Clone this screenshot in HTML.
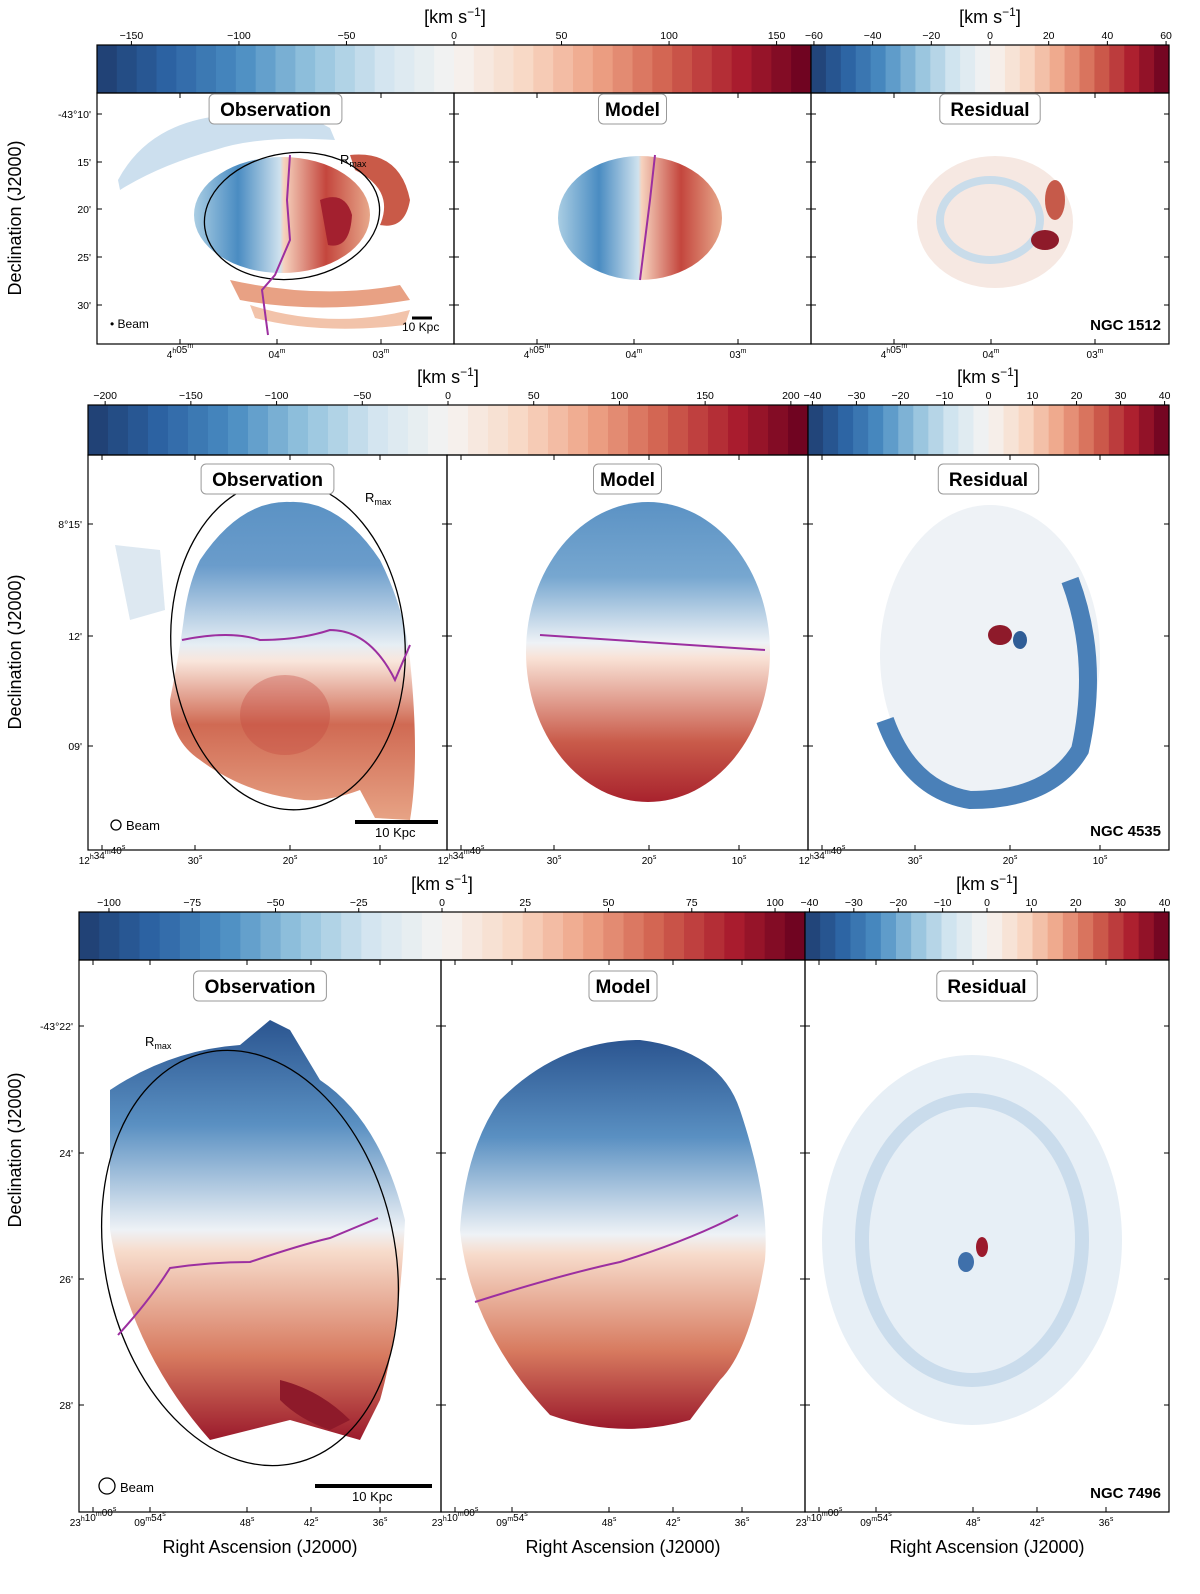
<!DOCTYPE html>
<html><head><meta charset="utf-8"><style>
html,body{margin:0;padding:0;background:#fff;overflow:hidden;width:1200px;height:1594px}
svg{display:block;position:absolute;left:0;top:0;font-family:"Liberation Sans","DejaVu Sans",sans-serif}
</style></head><body>
<svg id="fig" width="1200" height="1594" viewBox="0 0 1200 1594" xmlns="http://www.w3.org/2000/svg">
<defs>
<linearGradient id="gH" x1="0" y1="0" x2="1" y2="0"><stop offset="0" stop-color="#a9cde3"/><stop offset="0.25" stop-color="#4a8cc2"/><stop offset="0.49" stop-color="#cfe2ee"/><stop offset="0.51" stop-color="#f6d2be"/><stop offset="0.75" stop-color="#c4463d"/><stop offset="1" stop-color="#e7a88b"/></linearGradient>
<linearGradient id="gV" x1="0" y1="0" x2="0" y2="1"><stop offset="0" stop-color="#5b92c4"/><stop offset="0.2" stop-color="#6a9ccb"/><stop offset="0.45" stop-color="#e6eef4"/><stop offset="0.5" stop-color="#f9e6dc"/><stop offset="0.7" stop-color="#d06a53"/><stop offset="1" stop-color="#e7a385"/></linearGradient>
<linearGradient id="gV2" x1="0" y1="0" x2="0" y2="1"><stop offset="0" stop-color="#5b92c4"/><stop offset="0.25" stop-color="#77a7d0"/><stop offset="0.47" stop-color="#eef2f6"/><stop offset="0.52" stop-color="#f9e2d6"/><stop offset="0.8" stop-color="#c95b4a"/><stop offset="1" stop-color="#a8222d"/></linearGradient>
<linearGradient id="gV3" x1="0" y1="0" x2="0" y2="1"><stop offset="0" stop-color="#2b5590"/><stop offset="0.25" stop-color="#5a90c2"/><stop offset="0.5" stop-color="#eef2f6"/><stop offset="0.55" stop-color="#f7dccc"/><stop offset="0.8" stop-color="#d77a5f"/><stop offset="1" stop-color="#9b1a2c"/></linearGradient>
</defs>
<g id="bars"></g>
<g id="maps">
<g>
<path d="M118,180 Q150,120 230,115 Q300,110 330,128 L335,140 Q260,135 215,150 Q160,165 120,190 Z" fill="#c6dcec" opacity="0.9"/>
<ellipse cx="282" cy="215" rx="88" ry="58" fill="url(#gH)"/>
<path d="M350,155 Q400,150 410,200 Q405,230 380,225 Q395,190 355,170 Z" fill="#c95a48"/>
<path d="M230,280 Q320,300 400,285 L410,300 Q320,315 240,300 Z" fill="#e8a184"/>
<path d="M250,305 Q330,330 410,310 L405,325 Q320,335 255,318 Z" fill="#f2c3aa"/>
<path d="M320,200 Q345,190 352,215 Q350,250 328,245 Z" fill="#a3202f"/>
</g>
<g><ellipse cx="640" cy="218" rx="82" ry="62" fill="url(#gH)"/></g>
<g>
<ellipse cx="995" cy="222" rx="78" ry="66" fill="#f6e8e2"/>
<ellipse cx="990" cy="220" rx="50" ry="40" fill="none" stroke="#c9dcea" stroke-width="8"/>
<ellipse cx="1045" cy="240" rx="14" ry="10" fill="#8e1a2a"/>
<ellipse cx="1055" cy="200" rx="10" ry="20" fill="#c65a4a"/>
</g>
<g>
<path d="M115,545 L160,550 L165,610 L130,620 Z" fill="#dde8f1"/>
<path d="M200,560 Q240,500 290,502 Q340,500 380,560 Q405,610 410,660 Q420,760 410,820 L375,818 L360,790 Q320,805 290,798 Q240,790 200,760 Q170,740 170,700 Q180,650 185,610 Q190,580 200,560 Z" fill="url(#gV)"/>
<ellipse cx="285" cy="715" rx="45" ry="40" fill="#c4463d" opacity="0.35"/>
</g>
<g><ellipse cx="648" cy="652" rx="122" ry="150" fill="url(#gV2)"/></g>
<g>
<ellipse cx="990" cy="655" rx="110" ry="150" fill="#eef2f6"/>
<path d="M1070,580 Q1100,660 1080,750 Q1050,800 970,800 Q910,790 885,720" fill="none" stroke="#4a80b8" stroke-width="18"/>
<ellipse cx="1000" cy="635" rx="12" ry="10" fill="#8e1a2a"/>
<ellipse cx="1020" cy="640" rx="7" ry="9" fill="#2f5d96"/>
</g>
<g>
<path d="M110,1090 Q170,1050 240,1045 L270,1020 L290,1030 L320,1080 Q380,1120 405,1220 Q400,1330 380,1400 L360,1440 L290,1420 Q250,1430 210,1440 Q130,1350 110,1230 Z" fill="url(#gV3)"/>
<path d="M280,1380 Q320,1390 350,1420 L330,1430 Q300,1420 280,1400 Z" fill="#8e1a2a"/>
</g>
<g>
<path d="M500,1100 Q560,1040 640,1040 Q720,1050 740,1110 Q770,1200 765,1260 Q750,1350 720,1380 L690,1420 Q620,1440 550,1415 Q470,1330 460,1230 Q465,1150 500,1100 Z" fill="url(#gV3)"/>
</g>
<g>
<ellipse cx="972" cy="1240" rx="150" ry="185" fill="#e7eff6"/>
<ellipse cx="972" cy="1240" rx="110" ry="140" fill="none" stroke="#cadcec" stroke-width="14"/>
<ellipse cx="982" cy="1247" rx="6" ry="10" fill="#9b1a2c"/>
<ellipse cx="966" cy="1262" rx="8" ry="10" fill="#3f70ab"/>
</g>
</g>
<g id="over" fill="none">
<ellipse cx="292" cy="216" rx="88" ry="63" stroke="#000" stroke-width="1.3" transform="rotate(-8 292 216)"/>
<path d="M290,155 L287,200 L290,240 L275,275 L262,290 L268,335" stroke="#9c2fa0" stroke-width="2"/>
<path d="M655,155 L650,200 L645,240 L640,280" stroke="#9c2fa0" stroke-width="2"/>
<ellipse cx="288" cy="645" rx="117" ry="165" stroke="#000" stroke-width="1.3" transform="rotate(-4 288 645)"/>
<path d="M182,640 Q230,630 260,640 Q300,640 330,630 Q370,630 395,680 L410,645" stroke="#9c2fa0" stroke-width="2"/>
<path d="M540,635 Q650,642 765,650" stroke="#9c2fa0" stroke-width="2"/>
<ellipse cx="250" cy="1258" rx="145" ry="210" stroke="#000" stroke-width="1.3" transform="rotate(-12 250 1258)"/>
<path d="M118,1335 Q150,1300 170,1268 Q210,1262 250,1262 Q300,1245 330,1238 L378,1218" stroke="#9c2fa0" stroke-width="2"/>
<path d="M475,1302 Q560,1275 620,1262 Q690,1240 738,1215" stroke="#9c2fa0" stroke-width="2"/>
</g>
<g id="axes"></g>
</svg>
<script>
const cb1Ticks=[-150,-100,-50,0,50,100,150];
const cb1Res=[-60,-40,-20,0,20,40,60];
const cb2Ticks=[-200,-150,-100,-50,0,50,100,150,200];
const cb2Res=[-40,-30,-20,-10,0,10,20,30,40];
const cb3Ticks=[-100,-75,-50,-25,0,25,50,75,100];
const cb3Res=[-40,-30,-20,-10,0,10,20,30,40];
const NS='http://www.w3.org/2000/svg';
const stops=['#1f3d6f','#2c63a3','#4a8cc2','#93c2dd','#d3e5f0','#f6f4f2','#f8d8c5','#eea386','#d0604e','#ab1d2e','#67001f'];
function hex(c){return [1,3,5].map(i=>parseInt(c.substr(i,2),16));}
function cmap(t){t=Math.max(0,Math.min(1,t));const s=t*(stops.length-1);const i=Math.min(stops.length-2,Math.floor(s));const f=s-i;const a=hex(stops[i]),b=hex(stops[i+1]);return 'rgb('+a.map((v,k)=>Math.round(v+(b[k]-v)*f)).join(',')+')';}
function el(tag,attrs,parent){const e=document.createElementNS(NS,tag);for(const k in attrs)e.setAttribute(k,attrs[k]);parent.appendChild(e);return e;}
const bars=document.getElementById('bars');
function colorbar(name,x0,x1,y0,y1,vmin,vmax,nb,ticks,title,tx){
  const g=el('g',{},bars);
  
  
  const w=(x1-x0)/nb;
  for(let i=0;i<nb;i++){const r=el('rect',{x:x0+i*w,y:y0,width:w+0.6,height:y1-y0,fill:cmap((i+0.5)/nb)},g);
    
    }
  el('rect',{x:x0,y:y0,width:x1-x0,height:y1-y0,fill:'none',stroke:'#000','stroke-width':1.2},g);
  ticks.forEach(v=>{const x=x0+(v-vmin)/(vmax-vmin)*(x1-x0);
    el('line',{x1:x,x2:x,y1:y0,y2:y0-4,stroke:'#000'},g);
    const t=el('text',{x:x,y:y0-6,'font-size':10.5,'text-anchor':'middle'},g);t.textContent=(v<0?'\u2212'+(-v):v);
    
    });
  const t=el('text',{x:tx,y:y0-22,'font-size':18,'text-anchor':'middle'},g);
  
  
  t.innerHTML='[km s<tspan font-size="12" dy="-7">\u22121</tspan><tspan dy="7">]</tspan>';
}
colorbar('velocity-colorbar-ngc1512',97,811,45,93,-166,166,36,cb1Ticks,'',455);
colorbar('residual-colorbar-ngc1512',811,1169,45,93,-61,61,24,cb1Res,'',990);
colorbar('velocity-colorbar-ngc4535',88,808,405,455,-210,210,36,cb2Ticks,'',448);
colorbar('residual-colorbar-ngc4535',808,1169,405,455,-41,41,24,cb2Res,'',988);
colorbar('velocity-colorbar-ngc7496',79,805,912,960,-109,109,36,cb3Ticks,'',442);
colorbar('residual-colorbar-ngc7496',805,1169,912,960,-41,41,24,cb3Res,'',987);

const axes=document.getElementById('axes');
function txt(parent,x,y,s,size,anchor,name,extra){const t=el('text',Object.assign({x:x,y:y,'font-size':size,'text-anchor':anchor||'start'},extra||{}),parent);t.innerHTML=s;
  
  return t;}
function sup(a){return '<tspan font-size="7" dy="-5">'+a+'</tspan><tspan dy="5"></tspan>';}
function row(xs,y0,y1,yt,xt,titleY,ylabelY,bottom,ngc,extra){
  const names=['observation','model','residual'],titles=['Observation','Model','Residual'];
  for(let p=0;p<3;p++){
    const g=el('g',{},axes);
    
    
    const a=xs[p],b=xs[p+1];
    el('rect',{x:a,y:y0,width:b-a,height:y1-y0,fill:'none',stroke:'#000','stroke-width':1.2},g);
    yt.forEach(t=>{el('line',{x1:a,x2:a+5,y1:t[0],y2:t[0],stroke:'#000'},g);el('line',{x1:b,x2:b-5,y1:t[0],y2:t[0],stroke:'#000'},g);
      if(p==0)txt(g,a-6,t[0]+4,t[1],10.5,'end','y-tick-label');});
    xt.forEach(t=>{const x=a+t[0];el('line',{x1:x,x2:x,y1:y1,y2:y1-5,stroke:'#000'},g);el('line',{x1:x,x2:x,y1:y0,y2:y0+5,stroke:'#000'},g);
      txt(g,x,y1+14,t[1],10,'middle','x-tick-label');});
    const cx=(a+b)/2,w=titles[p].length*10.8+14;
    const r=el('rect',{x:cx-w/2,y:titleY-16,width:w,height:30,rx:5,fill:'#fff',stroke:'#999'},g);
    
    
    txt(g,cx,titleY+6,titles[p],19,'middle','panel-title',{'font-weight':'bold'});
    if(bottom)txt(g,cx,1553,'Right Ascension (J2000)',18,'middle','x-axis-title');
  }
  txt(axes,xs[3]-8,extra.ngcY,ngc,15,'end','galaxy-name',{'font-weight':'bold'});
  const yl=txt(axes,0,0,'Declination (J2000)',18,'middle','y-axis-title');
  yl.setAttribute('transform','translate(21,'+ylabelY+') rotate(-90)');
}
row([97,454,811,1169],93,344,[[114,'-43°10\''],[162,'15\''],[209,'20\''],[257,'25\''],[305,'30\'']],
 [[83,'4'+sup('h')+'05'+sup('m')],[180,'04'+sup('m')],[284,'03'+sup('m')]],110,218,false,'NGC 1512',{ngcY:330});
row([88,447,808,1169],455,850,[[524,'8°15\''],[636,'12\''],[746,'09\'']],
 [[14,'12'+sup('h')+'34'+sup('m')+'40'+sup('s')],[107,'30'+sup('s')],[202,'20'+sup('s')],[292,'10'+sup('s')]],480,652,false,'NGC 4535',{ngcY:836});
row([79,441,805,1169],960,1512,[[1026,'-43°22\''],[1153,'24\''],[1279,'26\''],[1405,'28\'']],
 [[14,'23'+sup('h')+'10'+sup('m')+'00'+sup('s')],[71,'09'+sup('m')+'54'+sup('s')],[168,'48'+sup('s')],[232,'42'+sup('s')],[301,'36'+sup('s')]],987,1150,true,'NGC 7496',{ngcY:1498});
const ann=el('g',{},axes);


txt(ann,110,328,'• Beam',12,'start','beam-label');
txt(ann,402,331,'10 Kpc',12,'start','scale-bar-label');el('line',{x1:412,x2:432,y1:318,y2:318,stroke:'#000','stroke-width':3},ann);
txt(ann,340,164,'R<tspan font-size="9" dy="3">max</tspan>',13,'start','rmax-label');
el('circle',{cx:116,cy:825,r:5,fill:'none',stroke:'#000','stroke-width':1.3},ann);
txt(ann,126,830,'Beam',13,'start','beam-label');
el('line',{x1:355,x2:438,y1:822,y2:822,stroke:'#000','stroke-width':4},ann);
txt(ann,375,837,'10 Kpc',13,'start','scale-bar-label');
txt(ann,365,502,'R<tspan font-size="9" dy="3">max</tspan>',13,'start','rmax-label');
el('circle',{cx:107,cy:1486,r:8,fill:'none',stroke:'#000','stroke-width':1.3},ann);
txt(ann,120,1492,'Beam',13,'start','beam-label');
el('line',{x1:315,x2:432,y1:1486,y2:1486,stroke:'#000','stroke-width':4},ann);
txt(ann,352,1501,'10 Kpc',13,'start','scale-bar-label');
txt(ann,145,1046,'R<tspan font-size="9" dy="3">max</tspan>',13,'start','rmax-label');
</script>
</body></html>
